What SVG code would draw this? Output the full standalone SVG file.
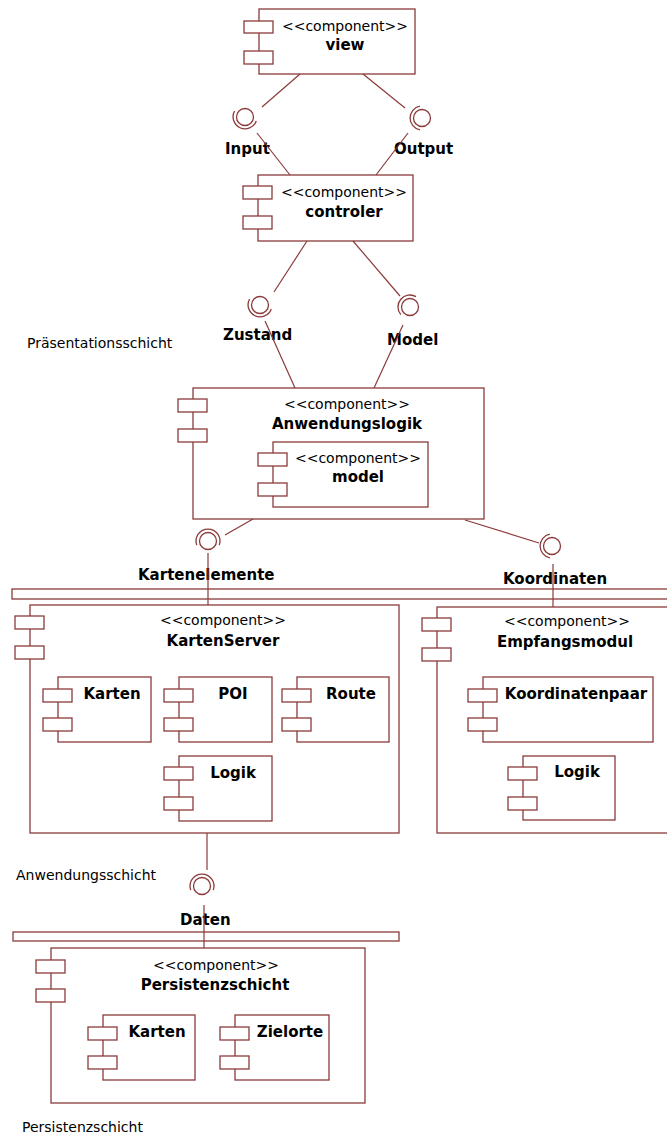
<svg xmlns="http://www.w3.org/2000/svg" width="667" height="1138" viewBox="0 0 667 1138">
<style>
.box{fill:#fff;stroke:#8b3a3a;stroke-width:1.3}
.bar{fill:none;stroke:#8b3a3a;stroke-width:1.3}
.ln{fill:none;stroke:#8b3a3a;stroke-width:1.2}
.ball{fill:none;stroke:#8b3a3a;stroke-width:1.3}
text{font-family:"DejaVu Sans","Liberation Sans",sans-serif;fill:#000}
.st{font-size:14px;text-anchor:middle}
.nm{font-size:15px;font-weight:bold;text-anchor:middle}
.lb{font-size:15px;font-weight:bold}
.ly{font-size:14px}
</style>
<rect width="667" height="1138" fill="#fff"/>

<g id="view">
<rect class="box" x="259" y="9" width="156" height="65"/>
<rect class="box" x="244" y="21" width="29" height="12"/>
<rect class="box" x="244" y="51" width="29" height="13"/>
<text class="st" x="345" y="31">&lt;&lt;component&gt;&gt;</text>
<text class="nm" x="345" y="50">view</text>
</g>

<g id="controler">
<rect class="box" x="258" y="175" width="155" height="66"/>
<rect class="box" x="243" y="186" width="29" height="13"/>
<rect class="box" x="243" y="216" width="29" height="13"/>
<text class="st" x="344" y="197">&lt;&lt;component&gt;&gt;</text>
<text class="nm" x="344" y="217">controler</text>
</g>

<g id="anwendungslogik">
<rect class="box" x="193" y="388" width="291" height="131"/>
<rect class="box" x="178" y="399" width="29" height="13"/>
<rect class="box" x="178" y="429" width="29" height="13"/>
<text class="st" x="347" y="409">&lt;&lt;component&gt;&gt;</text>
<text class="nm" x="347" y="429">Anwendungslogik</text>
</g>

<g id="model">
<rect class="box" x="273" y="442" width="155" height="65"/>
<rect class="box" x="258" y="453" width="29" height="13"/>
<rect class="box" x="258" y="483" width="29" height="13"/>
<text class="st" x="358" y="463">&lt;&lt;component&gt;&gt;</text>
<text class="nm" x="358" y="482">model</text>
</g>

<g id="bar-anwendung">
<rect class="bar" x="12" y="589" width="668" height="10"/>
</g>

<g id="kartenserver">
<rect class="box" x="30" y="605" width="369" height="228"/>
<rect class="box" x="15" y="616" width="29" height="13"/>
<rect class="box" x="15" y="646" width="29" height="13"/>
<text class="st" x="223" y="625">&lt;&lt;component&gt;&gt;</text>
<text class="nm" x="223" y="646">KartenServer</text>
</g>

<g id="ks-karten">
<rect class="box" x="58" y="677" width="93" height="65"/>
<rect class="box" x="43" y="689" width="29" height="13"/>
<rect class="box" x="43" y="718" width="29" height="13"/>
<text class="nm" x="112" y="699">Karten</text>
</g>

<g id="ks-poi">
<rect class="box" x="179" y="677" width="93" height="65"/>
<rect class="box" x="164" y="689" width="29" height="13"/>
<rect class="box" x="164" y="718" width="29" height="13"/>
<text class="nm" x="233" y="699">POI</text>
</g>

<g id="ks-route">
<rect class="box" x="297" y="677" width="92" height="65"/>
<rect class="box" x="282" y="689" width="29" height="13"/>
<rect class="box" x="282" y="718" width="29" height="13"/>
<text class="nm" x="351" y="699">Route</text>
</g>

<g id="ks-logik">
<rect class="box" x="179" y="756" width="93" height="65"/>
<rect class="box" x="164" y="767" width="29" height="13"/>
<rect class="box" x="164" y="797" width="29" height="13"/>
<text class="nm" x="233" y="778">Logik</text>
</g>

<g id="empfangsmodul">
<rect class="box" x="437" y="607" width="250" height="226"/>
<rect class="box" x="422" y="618" width="29" height="13"/>
<rect class="box" x="422" y="648" width="29" height="13"/>
<text class="st" x="567" y="626">&lt;&lt;component&gt;&gt;</text>
<text class="nm" x="565" y="647">Empfangsmodul</text>
</g>

<g id="em-koordinatenpaar">
<rect class="box" x="483" y="677" width="170" height="65"/>
<rect class="box" x="468" y="689" width="29" height="13"/>
<rect class="box" x="468" y="718" width="29" height="13"/>
<text class="nm" x="576" y="699">Koordinatenpaar</text>
</g>

<g id="em-logik">
<rect class="box" x="523" y="756" width="92" height="64"/>
<rect class="box" x="508" y="767" width="29" height="13"/>
<rect class="box" x="508" y="797" width="29" height="13"/>
<text class="nm" x="577" y="777">Logik</text>
</g>

<g id="bar-persistenz">
<rect class="bar" x="13" y="932" width="386" height="9"/>
</g>

<g id="persistenzschicht">
<rect class="box" x="51" y="948" width="314" height="155"/>
<rect class="box" x="36" y="960" width="29" height="13"/>
<rect class="box" x="36" y="989" width="29" height="13"/>
<text class="st" x="216" y="970">&lt;&lt;component&gt;&gt;</text>
<text class="nm" x="215" y="990">Persistenzschicht</text>
</g>

<g id="ps-karten">
<rect class="box" x="103" y="1015" width="92" height="65"/>
<rect class="box" x="88" y="1027" width="29" height="13"/>
<rect class="box" x="88" y="1056" width="29" height="13"/>
<text class="nm" x="157" y="1037">Karten</text>
</g>

<g id="ps-zielorte">
<rect class="box" x="235" y="1015" width="94" height="65"/>
<rect class="box" x="220" y="1027" width="29" height="13"/>
<rect class="box" x="220" y="1056" width="29" height="13"/>
<text class="nm" x="290" y="1037">Zielorte</text>
</g>

<g id="interfaces">
<g id="if-input">
<circle class="ball" cx="245" cy="117" r="8.5"/>
<path class="ball" d="M256.3,121.1 A12,12 0 1 1 234.6,111"/>
<text class="lb" x="225" y="154">Input</text>
</g>
<g id="if-output">
<circle class="ball" cx="422" cy="118" r="8.5"/>
<path class="ball" d="M419.9,129.8 A12,12 0 0 1 419.9,106.2"/>
<text class="lb" x="394" y="154">Output</text>
</g>
<g id="if-zustand">
<circle class="ball" cx="260" cy="305" r="8.5"/>
<path class="ball" d="M271.3,309.1 A12,12 0 1 1 249.6,299"/>
<text class="lb" x="223" y="340">Zustand</text>
</g>
<g id="if-model">
<circle class="ball" cx="410" cy="307" r="8.5"/>
<path class="ball" d="M400.8,314.7 A12,12 0 0 1 416,296.6"/>
<text class="lb" x="387" y="345">Model</text>
</g>
<g id="if-kartenelemente">
<circle class="ball" cx="208" cy="541" r="8.5"/>
<path class="ball" d="M196.7,545.1 A12,12 0 1 1 219.3,545.1"/>
<text class="lb" x="138" y="580">Kartenelemente</text>
</g>
<g id="if-koordinaten">
<circle class="ball" cx="552" cy="546" r="8.5"/>
<path class="ball" d="M549.9,557.8 A12,12 0 0 1 549.9,534.2"/>
<text class="lb" x="503" y="584">Koordinaten</text>
</g>
<g id="if-daten">
<circle class="ball" cx="202" cy="886" r="8.5"/>
<path class="ball" d="M190.7,890.1 A12,12 0 1 1 213.3,890.1"/>
<text class="lb" x="180" y="925">Daten</text>
</g>
</g>

<g id="connectors">
<line class="ln" x1="300" y1="74" x2="262" y2="107"/>
<line class="ln" x1="257" y1="133" x2="290" y2="175"/>
<line class="ln" x1="363" y1="74" x2="405" y2="108"/>
<line class="ln" x1="408" y1="133" x2="376" y2="175"/>
<line class="ln" x1="307" y1="241" x2="274" y2="292"/>
<line class="ln" x1="265" y1="321" x2="295" y2="388"/>
<line class="ln" x1="353" y1="241" x2="400" y2="296"/>
<line class="ln" x1="403" y1="325" x2="374" y2="388"/>
<line class="ln" x1="253" y1="519" x2="225" y2="535"/>
<line class="ln" x1="208" y1="553" x2="208" y2="605"/>
<line class="ln" x1="465" y1="520" x2="539" y2="543"/>
<line class="ln" x1="553" y1="564" x2="553" y2="607"/>
<line class="ln" x1="207" y1="833" x2="207" y2="870"/>
<line class="ln" x1="204" y1="905" x2="204" y2="948"/>
</g>

<g id="layer-labels">
<text class="ly" x="27" y="348">Präsentationsschicht</text>
<text class="ly" x="16" y="880">Anwendungsschicht</text>
<text class="ly" x="22" y="1132">Persistenzschicht</text>
</g>
</svg>
